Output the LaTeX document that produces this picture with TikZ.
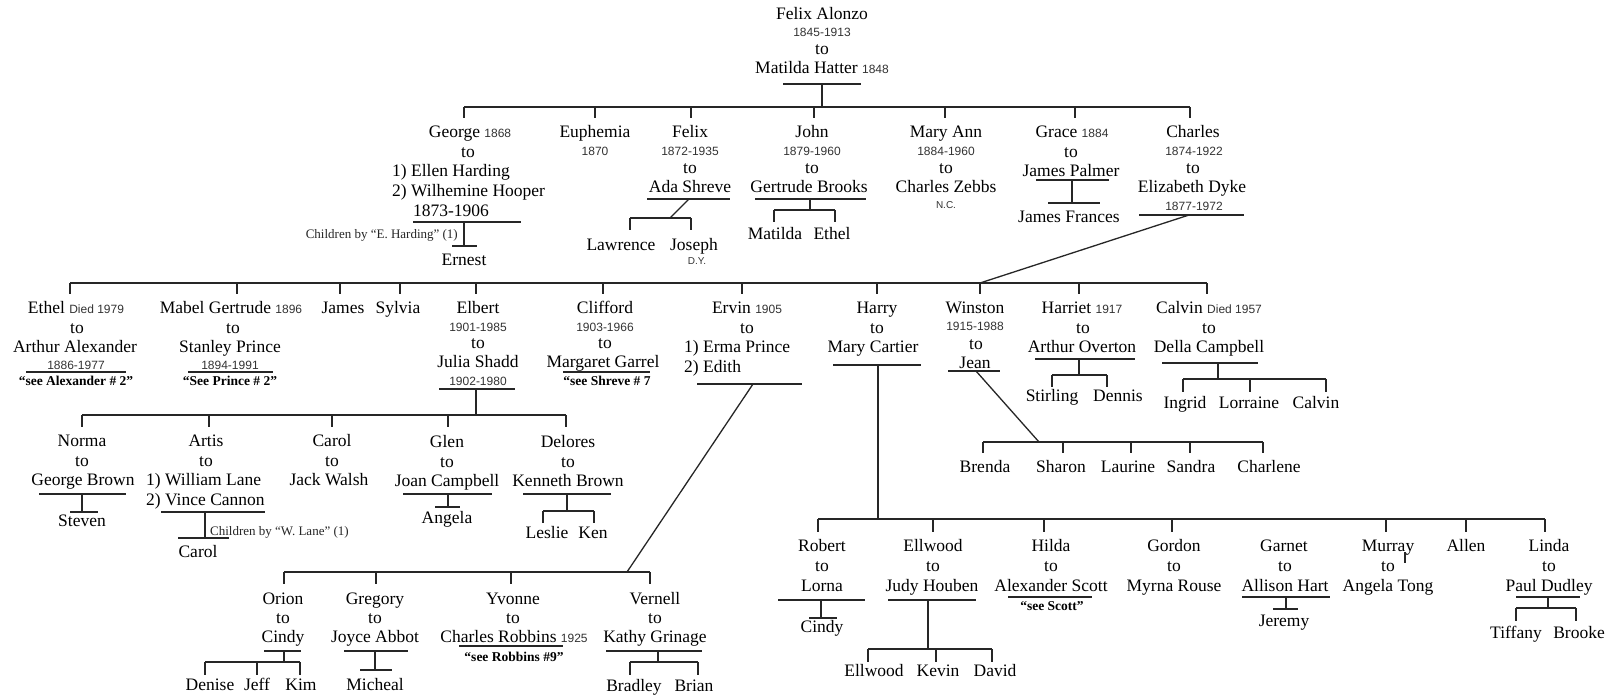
\documentclass[tikz,border=0pt]{standalone}
\usepackage{fontspec}
\setmainfont{Liberation Serif}
\newfontfamily\yrfont{Liberation Sans}
\newcommand{\yrs}[1]{{\yrfont\fontsize{12}{14}\selectfont\color{black!80}#1}}
% line helpers: every segment is drawn between two named coordinates
\newcommand{\hseg}[4]{\coordinate (#1-l) at (#2,#4); \coordinate (#1-r) at (#3,#4); \draw[ln] (#1-l) -- (#1-r);}
\newcommand{\vseg}[4]{\coordinate (#1-t) at (#2,#3); \coordinate (#1-b) at (#2,#4); \draw[ln] (#1-t) -- (#1-b);}
\newcommand{\sseg}[5]{\coordinate (#1-a) at (#2,#3); \coordinate (#1-z) at (#4,#5); \draw[ln] (#1-a) -- (#1-z);}
\newcommand{\drops}[4]{\foreach \xx [count=\ii] in {#4} {\vseg{#1\ii}{\xx}{#2}{#3}}}
\tikzset{
  nm/.style={inner sep=0pt, font=\rmfamily\fontsize{17.5}{20}\selectfont, text height=12pt, text depth=4pt},
  dt/.style={inner sep=0pt, font=\yrfont\fontsize{12}{14}\selectfont, text=black!80, text height=8.5pt, text depth=0pt},
  nt/.style={inner sep=0pt, font=\rmfamily\bfseries\fontsize{13.5}{15}\selectfont, text height=9pt, text depth=0pt},
  sm/.style={inner sep=0pt, font=\rmfamily\fontsize{13}{15}\selectfont, text=black!85, text height=9pt, text depth=3pt},
  tn/.style={inner sep=0pt, font=\yrfont\fontsize{10}{12}\selectfont, text=black!80, text height=7pt, text depth=0pt},
  ln/.style={line width=1.3pt, draw=black!85}
}
\begin{document}
\begin{tikzpicture}[x=1pt,y=-1pt]
\fill[white] (0,0) rectangle (1616,697);
\useasboundingbox (0,0) rectangle (1616,697);

% ---------- founders ----------
\node[nm] (fa) at (822,15) {Felix Alonzo};
\node[dt] (fad) at (822,32) {1845-1913};
\node[nm] (fato) at (822,50) {to};
\node[nm] (mh) at (822,69) {Matilda Hatter \yrs{1848}};
\hseg{u0}{783}{861}{84}
\vseg{v0}{822}{84}{107}

% ---------- first generation ----------
\hseg{b1}{464}{1190}{107}
\drops{d1}{107}{118}{464,595,691,814,945,1075,1190}

% George
\node[nm] (geo) at (470,133) {George \yrs{1868}};
\node[nm] (geoto) at (468,153) {to};
\node[nm,anchor=west] (geo1) at (392,172) {1) Ellen Harding};
\node[nm,anchor=west] (geo2) at (392,192) {2) Wilhemine Hooper};
\node[nm] (geod) at (451,212) {1873-1906};
\hseg{uGeo}{413}{521}{222}
\vseg{vGeo}{464}{222}{246}
\hseg{tGeo}{452}{477}{246}
\node[sm,anchor=east] (geoby) at (458,235) {Children by “E. Harding” (1)};
\node[nm] (ernest) at (464,261) {Ernest};

% Euphemia
\node[nm] (eup) at (595,133) {Euphemia};
\node[dt] (eupd) at (595,151) {1870};

% Felix
\node[nm] (fel) at (690,133) {Felix};
\node[dt] (feld) at (690,151) {1872-1935};
\node[nm] (felto) at (690,169) {to};
\node[nm] (ada) at (690,188) {Ada Shreve};
\hseg{uFel}{647}{730}{199}
\sseg{sFel}{689}{199}{670}{218}
\hseg{bFel}{630}{691}{218}
\drops{dFel}{218}{230}{630,691}
\node[nm] (lawrence) at (621,246) {Lawrence};
\node[nm] (joseph) at (694,246) {Joseph};
\node[tn] (josephn) at (697,261) {D.Y.};

% John
\node[nm] (john) at (812,133) {John};
\node[dt] (johnd) at (812,151) {1879-1960};
\node[nm] (johnto) at (812,169) {to};
\node[nm] (gert) at (809,188) {Gertrude Brooks};
\hseg{uJoh}{755}{866}{199}
\vseg{vJoh}{810}{199}{210}
\hseg{bJoh}{774}{835}{210}
\drops{dJoh}{210}{222}{774,835}
\node[nm] (matilda) at (775,235) {Matilda};
\node[nm] (ethelj) at (832,235) {Ethel};

% Mary Ann
\node[nm] (maryann) at (946,133) {Mary Ann};
\node[dt] (maryannd) at (946,151) {1884-1960};
\node[nm] (maryannto) at (946,169) {to};
\node[nm] (zebbs) at (946,188) {Charles Zebbs};
\node[tn] (zebbsn) at (946,205) {N.C.};

% Grace
\node[nm] (grace) at (1072,133) {Grace \yrs{1884}};
\node[nm] (graceto) at (1071,153) {to};
\node[nm] (palmer) at (1071,172) {James Palmer};
\hseg{uGra}{1036}{1109}{180}
\vseg{vGra}{1072}{180}{203}
\hseg{tGra}{1048}{1100}{203}
\node[nm] (jfrances) at (1069,218) {James Frances};

% Charles
\node[nm] (charles) at (1193,133) {Charles};
\node[dt] (charlesd) at (1194,151) {1874-1922};
\node[nm] (charlesto) at (1193,169) {to};
\node[nm] (dyke) at (1192,188) {Elizabeth Dyke};
\node[dt] (dyked) at (1194,206) {1877-1972};
\hseg{uCha}{1139}{1244}{215}
\sseg{sCha}{1189}{215}{980}{283}

% ---------- Charles' children ----------
\hseg{b2}{70}{1207}{283}
\drops{d2}{283}{294}{70,237,340,400,476,603,742,877,980,1079,1207}

% Ethel
\node[nm] (ethel) at (76,309) {Ethel \yrs{Died 1979}};
\node[nm] (ethelto) at (77,329) {to};
\node[nm] (arthura) at (75,348) {Arthur Alexander};
\node[dt] (arthurad) at (76,365) {1886-1977};
\hseg{uEth}{26}{126}{372}
\node[nt] (ethelnt) at (76,381) {“see Alexander \# 2”};

% Mabel
\node[nm] (mabel) at (231,309) {Mabel Gertrude \yrs{1896}};
\node[nm] (mabelto) at (233,329) {to};
\node[nm] (stanley) at (230,348) {Stanley Prince};
\node[dt] (stanleyd) at (230,365) {1894-1991};
\hseg{uMab}{188}{273}{372}
\node[nt] (mabelnt) at (230,381) {“See Prince \# 2”};

\node[nm] (james) at (343,309) {James};
\node[nm] (sylvia) at (398,309) {Sylvia};

% Elbert
\node[nm] (elbert) at (478,309) {Elbert};
\node[dt] (elbertd) at (478,327) {1901-1985};
\node[nm] (elbertto) at (478,344) {to};
\node[nm] (julia) at (478,363) {Julia Shadd};
\node[dt] (juliad) at (478,381) {1902-1980};
\hseg{uElb}{439}{515}{389}
\vseg{vElb}{476}{389}{415}

% Clifford
\node[nm] (clifford) at (605,309) {Clifford};
\node[dt] (cliffordd) at (605,327) {1903-1966};
\node[nm] (cliffordto) at (605,344) {to};
\node[nm] (garrel) at (603,363) {Margaret Garrel};
\hseg{uCli}{563}{650}{372}
\node[nt] (cliffordnt) at (607,381) {“see Shreve \# 7};

% Ervin
\node[nm] (ervin) at (747,309) {Ervin \yrs{1905}};
\node[nm] (ervinto) at (747,329) {to};
\node[nm,anchor=west] (ervin1) at (684,348) {1) Erma Prince};
\node[nm,anchor=west] (ervin2) at (684,368) {2) Edith};
\hseg{uErv}{697}{802}{384}
\sseg{sErv}{753}{384}{627}{572}

% Harry
\node[nm] (harry) at (877,309) {Harry};
\node[nm] (harryto) at (877,329) {to};
\node[nm] (cartier) at (873,348) {Mary Cartier};
\hseg{uHar}{833}{921}{365}
\vseg{vHar}{878}{365}{519}

% Winston
\node[nm] (winston) at (975,309) {Winston};
\node[dt] (winstond) at (975,326) {1915-1988};
\node[nm] (winstonto) at (976,345) {to};
\node[nm] (jean) at (975,364) {Jean};
\hseg{uWin}{948}{1000}{371}
\sseg{sWin}{976}{371}{1039}{442}

% Harriet
\node[nm] (harriet) at (1082,309) {Harriet \yrs{1917}};
\node[nm] (harrietto) at (1083,329) {to};
\node[nm] (overton) at (1082,348) {Arthur Overton};
\hseg{uHat}{1035}{1135}{359}
\vseg{vHat}{1079}{359}{375}
\hseg{bHat}{1052}{1107}{375}
\drops{dHat}{375}{387}{1052,1107}
\node[nm] (stirling) at (1052,397) {Stirling};
\node[nm] (dennis) at (1118,397) {Dennis};

% Calvin
\node[nm] (calvin) at (1209,309) {Calvin \yrs{Died 1957}};
\node[nm] (calvinto) at (1209,329) {to};
\node[nm] (della) at (1209,348) {Della Campbell};
\hseg{uCal}{1162}{1258}{363}
\vseg{vCal}{1218}{363}{379}
\hseg{bCal}{1183}{1326}{379}
\drops{dCal}{379}{392}{1183,1250,1326}
\node[nm] (ingrid) at (1185,404) {Ingrid};
\node[nm] (lorraine) at (1249,404) {Lorraine};
\node[nm] (calvinj) at (1316,404) {Calvin};

% Winston's children
\hseg{bWin}{983}{1263}{442}
\drops{dWin}{442}{453}{983,1063,1131,1190,1263}
\node[nm] (brenda) at (985,468) {Brenda};
\node[nm] (sharon) at (1061,468) {Sharon};
\node[nm] (laurine) at (1128,468) {Laurine};
\node[nm] (sandra) at (1191,468) {Sandra};
\node[nm] (charlene) at (1269,468) {Charlene};

% ---------- Elbert's children ----------
\hseg{b3}{82}{566}{415}
\drops{d3}{415}{427}{82,209,332,448,566}

\node[nm] (norma) at (82,442) {Norma};
\node[nm] (normato) at (82,462) {to};
\node[nm] (gbrown) at (83,481) {George Brown};
\hseg{uNor}{39}{126}{494}
\vseg{vNor}{82}{494}{512}
\hseg{tNor}{70}{98}{512}
\node[nm] (steven) at (82,522) {Steven};

\node[nm] (artis) at (206,442) {Artis};
\node[nm] (artisto) at (206,462) {to};
\node[nm,anchor=west] (artis1) at (146,481) {1) William Lane};
\node[nm,anchor=west] (artis2) at (146,501) {2) Vince Cannon};
\hseg{uArt}{161}{265}{512}
\vseg{vArt}{205}{512}{538}
\hseg{tArt}{178}{229}{538}
\node[sm,anchor=west] (artisby) at (210,532) {Children by “W. Lane” (1)};
\node[nm] (carola) at (198,553) {Carol};

\node[nm] (carol) at (332,442) {Carol};
\node[nm] (carolto) at (332,462) {to};
\node[nm] (walsh) at (329,481) {Jack Walsh};

\node[nm] (glen) at (447,443) {Glen};
\node[nm] (glento) at (447,463) {to};
\node[nm] (joanc) at (447,482) {Joan Campbell};
\hseg{uGle}{403}{492}{494}
\vseg{vGle}{448}{494}{507}
\hseg{tGle}{435}{460}{507}
\node[nm] (angela) at (447,519) {Angela};

\node[nm] (delores) at (568,443) {Delores};
\node[nm] (deloresto) at (568,463) {to};
\node[nm] (kbrown) at (568,482) {Kenneth Brown};
\hseg{uDel}{523}{611}{494}
\vseg{vDel}{567}{494}{511}
\hseg{bDel}{543}{594}{511}
\drops{dDel}{511}{523}{543,594}
\node[nm] (leslie) at (547,534) {Leslie};
\node[nm] (ken) at (593,534) {Ken};

% ---------- Ervin's children ----------
\hseg{b4}{284}{650}{572}
\drops{d4}{572}{584}{284,376,511,650}

\node[nm] (orion) at (283,600) {Orion};
\node[nm] (orionto) at (283,619) {to};
\node[nm] (cindyo) at (283,638) {Cindy};
\hseg{uOri}{264}{301}{651}
\vseg{vOri}{284}{651}{662}
\hseg{bOri}{205}{300}{662}
\drops{dOri}{662}{675}{205,257,300}
\node[nm] (denise) at (210,686) {Denise};
\node[nm] (jeff) at (257,686) {Jeff};
\node[nm] (kim) at (301,686) {Kim};

\node[nm] (gregory) at (375,600) {Gregory};
\node[nm] (gregoryto) at (375,619) {to};
\node[nm] (abbot) at (375,638) {Joyce Abbot};
\hseg{uGre}{344}{408}{651}
\vseg{vGre}{375}{651}{670}
\hseg{tGre}{360}{392}{670}
\node[nm] (micheal) at (375,686) {Micheal};

\node[nm] (yvonne) at (513,600) {Yvonne};
\node[nm] (yvonneto) at (513,619) {to};
\node[nm] (robbins) at (514,638) {Charles Robbins \yrs{1925}};
\hseg{uYvo}{459}{563}{646}
\node[nt] (yvonnent) at (514,657) {“see Robbins \#9”};

\node[nm] (vernell) at (655,600) {Vernell};
\node[nm] (vernellto) at (655,619) {to};
\node[nm] (grinage) at (655,638) {Kathy Grinage};
\hseg{uVer}{606}{702}{651}
\vseg{vVer}{658}{651}{662}
\hseg{bVer}{630}{698}{662}
\drops{dVer}{662}{675}{630,698}
\node[nm] (bradley) at (634,687) {Bradley};
\node[nm] (brian) at (694,687) {Brian};

% ---------- Harry's children ----------
\hseg{b5}{818}{1545}{519}
\drops{d5}{519}{532}{818,933,1044,1172,1386,1466,1545}

\node[nm] (robert) at (822,547) {Robert};
\node[nm] (robertto) at (822,567) {to};
\node[nm] (lorna) at (822,587) {Lorna};
\hseg{uRob}{778}{865}{600}
\vseg{vRob}{821}{600}{618}
\hseg{tRob}{809}{837}{618}
\node[nm] (cindyr) at (822,628) {Cindy};

\node[nm] (ellwood) at (933,547) {Ellwood};
\node[nm] (ellwoodto) at (933,567) {to};
\node[nm] (houben) at (932,587) {Judy Houben};
\hseg{uEll}{888}{976}{600}
\vseg{vEll}{928}{600}{649}
\hseg{bEll}{868}{992}{649}
\drops{dEll}{649}{662}{868,936,992}
\node[nm] (ellwoodj) at (874,672) {Ellwood};
\node[nm] (kevin) at (938,672) {Kevin};
\node[nm] (david) at (995,672) {David};

\node[nm] (hilda) at (1051,547) {Hilda};
\node[nm] (hildato) at (1051,567) {to};
\node[nm] (scott) at (1051,587) {Alexander Scott};
\hseg{uHil}{1008}{1092}{597}
\node[nt] (hildant) at (1052,606) {“see Scott”};

\node[nm] (gordon) at (1174,547) {Gordon};
\node[nm] (gordonto) at (1174,567) {to};
\node[nm] (rouse) at (1174,587) {Myrna Rouse};

\node[nm] (garnet) at (1284,547) {Garnet};
\node[nm] (garnetto) at (1285,567) {to};
\node[nm] (hart) at (1285,587) {Allison Hart};
\hseg{uGar}{1242}{1330}{597}
\vseg{vGar}{1286}{597}{609}
\hseg{tGar}{1273}{1298}{609}
\node[nm] (jeremy) at (1284,622) {Jeremy};

\node[nm] (murray) at (1388,547) {Murray};
\node[nm] (murrayto) at (1388,567) {to};
\node[nm] (tong) at (1388,587) {Angela Tong};
\vseg{xMur}{1405}{552}{563}

\node[nm] (allen) at (1466,547) {Allen};

\node[nm] (linda) at (1549,547) {Linda};
\node[nm] (lindato) at (1549,567) {to};
\node[nm] (dudley) at (1549,587) {Paul Dudley};
\hseg{uLin}{1516}{1580}{597}
\vseg{vLin}{1548}{597}{608}
\hseg{bLin}{1516}{1576}{608}
\drops{dLin}{608}{621}{1516,1576}
\node[nm] (tiffany) at (1516,634) {Tiffany};
\node[nm] (brooke) at (1579,634) {Brooke};
\end{tikzpicture}
\end{document}
